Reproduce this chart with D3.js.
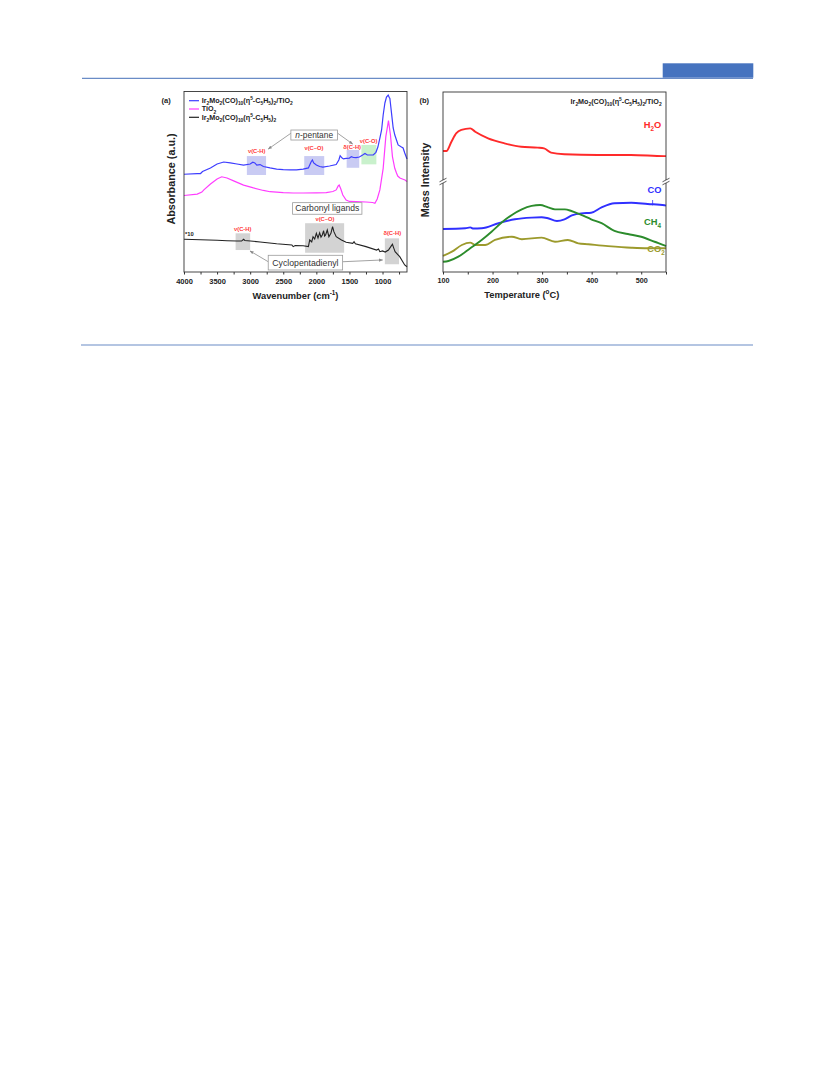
<!DOCTYPE html>
<html><head><meta charset="utf-8">
<script src="https://cdn.jsdelivr.net/npm/d3@7"></script>
<style>html,body{margin:0;padding:0;background:#fff;} svg{display:block;font-family:"Liberation Sans",Arial,sans-serif;}</style>
</head><body><svg id="c" width="833" height="1091"></svg>
<script>
// ---------- Panel (a) data : IR spectra (wavenumber cm-1, absorbance a.u.) ----------
const hybridWn = [4000,3800,3750,3720,3600,3500,3400,3300,3200,3100,3000,2960,2930,2900,2850,2800,2700,2600,2500,2400,2300,2200,2120,2080,2060,2040,2000,1950,1900,1800,1700,1660,1640,1610,1590,1550,1500,1470,1440,1400,1350,1300,1265,1230,1180,1140,1100,1070,1040,1014,990,964,940,914,895,889,864,839,814,789,764,714,689,664,630];
const hybridAbs = [54.3,54.7,54.7,55.8,57.8,60,61.1,60.6,60,59.4,60,61,60.6,59.4,59.7,58.6,57.8,57.2,56.9,56.7,56.7,57.2,57.8,61.1,62.2,60.6,59.4,58.6,58.3,58.9,59.7,62.2,64.6,63.3,62.8,63.1,63.3,64.1,63.6,63.5,63.9,65,65.9,65,65,65,66.5,69.4,74.4,78.9,87.2,93.9,97.2,98.3,96.7,96.5,88.3,80,76.1,73.3,70.6,69.4,68.9,66.1,62.8];
const tio2Wn = [4000,3800,3730,3700,3600,3500,3430,3350,3250,3100,2950,2800,2700,2500,2350,2200,2000,1850,1750,1700,1670,1655,1630,1600,1550,1500,1400,1250,1150,1115,1080,1040,990,950,910,880,850,815,789,770,737,700,660,630];
const tio2Abs = [42.5,43.3,44.4,45.6,48.9,51.7,52.9,52.2,50.6,48.3,46.7,45.3,44.6,44.1,43.9,43.9,44,44.1,44.7,45.6,47.8,48.3,46.1,42.8,40,39.2,39.1,38.9,38.6,38.2,40.6,45.6,57.6,75.2,84.1,76.1,64.1,57.6,55,53.3,52.2,51.7,51.1,50.2];
const complexWn = [4000,3750,3500,3350,3200,3130,3100,3080,2850,2600,2370,2350,2320,2200,2120,2100,2070,2050,2025,2000,1975,1950,1930,1910,1890,1875,1860,1835,1810,1780,1755,1735,1700,1620,1550,1450,1430,1410,1250,1090,1060,1040,1000,960,910,870,850,830,810,740,665,630];
const complexAbs = [18.2,17.9,17.6,17.4,17.2,17.2,18.2,17.5,16.7,15.7,15,14.1,14.7,14.6,14.1,17.8,16.7,19.6,18.3,21.5,18.9,21.8,19.4,20.6,22.9,20,20.6,23.3,19.6,21.5,25.2,22.4,19.6,17.8,16.5,15.9,16.8,15.7,14.1,12.2,12.8,11.3,11.7,11.1,12.2,14.4,15.4,13.3,11.3,8.5,3.9,2.9];
const legendA = ["Ir_{2}Mo_{2}(CO)_{10}(η^{5}-C_{5}H_{5})_{2}/TiO_{2}", "TiO_{2}", "Ir_{2}Mo_{2}(CO)_{10}(η^{5}-C_{5}H_{5})_{2}"];
const ticksA = [4000,3500,3000,2500,2000,1500,1000];

// shaded band annotations [wn1, wn2, abs1, abs2]
const bandsBlue = [[3050,2760,53.9,64.4],[2183,1881,53.9,64.4],[1542,1352,57.9,67.8]];
const bandsGreen = [[1319,1093,59.8,70.6]];
const bandsGray = [[3220,3000,12.2,21.5],[2170,1580,10.7,27.1],[965,750,4.3,18.7]];
const modeLabels = [["ν(C-H)",2902,66.1],["ν(C–O)",2036,67.6],["δ(C-H)",1458,68.2],["ν(C-O)",1210,71.7],["ν(C-H)",3113,22.6],["ν(C–O)",1870,28.2],["δ(C-H)",853,20.4]];

// ---------- Panel (b) data : TPD mass signals ----------
const h2oT = [100,107,117,127,137,155,165,191,224,258,291,304,318,345,412,479,546,550];
const h2oI = [67.2,67.2,72.4,77.1,78.9,79.8,77.9,74.3,71.5,69.6,69.1,68.7,66.3,65.4,65,65,64.4,64.4];
const coT = [100,145,155,160,178,212,245,279,299,310,330,345,360,379,399,420,446,480,513,547,550];
const coI = [23.9,24.3,24.8,24.2,24.3,27.1,29.3,30.2,30.4,30,28.3,29.2,31.4,32.6,32.9,35.9,38.2,38.5,37.8,37.1,36.9];
const ch4T = [100,111,131,155,178,198,219,239,259,279,296,312,326,346,359,379,399,420,446,473,500,527,548,550];
const ch4I = [5.7,6.1,8.5,13.2,17.8,22.4,27.6,31.7,34.8,36.7,37.2,35.9,34.8,34.8,33.9,31.7,29.3,27.1,22.8,21.1,19.6,16.8,14.6,14.4];
const co2T = [100,118,138,155,165,185,205,239,259,299,326,352,373,393,433,480,513,548,550];
const co2I = [8.9,11.3,15,16.3,15,15,17.8,19.6,18.2,19.1,16.8,17.8,15.9,15.4,14.4,13.5,13.2,13.2,13.2];
const ticksB = [100,200,300,400,500];
const seriesB = ["H_{2}O","CO","CH_{4}","CO_{2}"];

// ---------- helpers ----------
const svg = d3.select("#c");
function rich(sel, str, size){
  const parts = str.split(/(_\{[^}]*\}|\^\{[^}]*\})/).filter(s=>s.length);
  let shift = 0;
  parts.forEach(p=>{
    let t=p, target=0, fs=size;
    if(p.startsWith("_{")){t=p.slice(2,-1);target=size*0.3;fs=size*0.68;}
    else if(p.startsWith("^{")){t=p.slice(2,-1);target=-size*0.42;fs=size*0.68;}
    sel.append("tspan").attr("dy",(target-shift).toFixed(2)).style("font-size",fs+"px").text(t);
    shift=target;
  });
  return sel;
}

// page header / footer rules
svg.append("line").attr("x1",82).attr("x2",753).attr("y1",78.3).attr("y2",78.3).attr("stroke","#6a8cc6").attr("stroke-width",1.2);
svg.append("rect").attr("x",662.7).attr("y",63.3).attr("width",90.6).attr("height",14.4).attr("fill","#4673bf");
svg.append("line").attr("x1",81).attr("x2",753).attr("y1",345).attr("y2",345).attr("stroke","#6a8cc6").attr("stroke-width",1.2);

// ================= Panel (a) =================
const xa = d3.scaleLinear().domain([4000,630]).range([184,407]);
const ya = d3.scaleLinear().domain([0,100]).range([272,92]);
const ga = svg.append("g");

function bands(arr, fill){
  ga.selectAll(null).data(arr).enter().append("rect")
    .attr("x",d=>xa(d[0])).attr("width",d=>xa(d[1])-xa(d[0]))
    .attr("y",d=>ya(d[3])).attr("height",d=>ya(d[2])-ya(d[3]))
    .attr("fill",fill);
}
bands(bandsBlue,"#c9cbf3");
bands(bandsGreen,"#c9f1cc");
bands(bandsGray,"#d3d3d3");

const lineA = (wn,ab)=>d3.line().x((d,i)=>xa(wn[i])).y((d,i)=>ya(ab[i]))(wn);
ga.append("path").attr("d",lineA(complexWn,complexAbs)).attr("fill","none").attr("stroke","#222").attr("stroke-width",1.1);
ga.append("path").attr("d",lineA(tio2Wn,tio2Abs)).attr("fill","none").attr("stroke","#ff3cff").attr("stroke-width",1.2);
ga.append("path").attr("d",lineA(hybridWn,hybridAbs)).attr("fill","none").attr("stroke","#3d3dff").attr("stroke-width",1.2);

// frame
ga.append("rect").attr("x",184).attr("y",91.5).attr("width",223).attr("height",180.5).attr("fill","none").attr("stroke","#333").attr("stroke-width",0.9);
// x axis
const axA = d3.axisBottom(xa).tickValues(d3.range(4000,620,-250)).tickSize(2.5).tickFormat(d=>ticksA.includes(d)?d:"");
const gax = ga.append("g").attr("transform","translate(0,272)").call(axA);
gax.select(".domain").remove();
gax.selectAll("line").attr("stroke","#333");
gax.selectAll("text").attr("dy",0).attr("y",12).style("font-size","7.5px").style("font-weight","bold").attr("fill","#222");

rich(ga.append("text").attr("x",xa(2315)).attr("y",299.3).attr("text-anchor","middle").style("font-weight","bold").attr("fill","#222"),"Wavenumber (cm^{-1})",9.3);
ga.append("text").attr("transform","translate(175,179) rotate(-90)").attr("text-anchor","middle").style("font-size","10.8px").style("font-weight","bold").attr("fill","#222").text("Absorbance (a.u.)");
ga.append("text").attr("x",161.5).attr("y",102.5).style("font-size","7.5px").style("font-weight","bold").attr("fill","#222").text("(a)");

// legend
const legCols = ["#3d3dff","#ff3cff","#222"];
legendA.forEach((s,i)=>{
  const y = 100.7 + i*8.3;
  ga.append("line").attr("x1",189).attr("x2",199).attr("y1",y).attr("y2",y).attr("stroke",legCols[i]).attr("stroke-width",1.2);
  rich(ga.append("text").attr("x",201.7).attr("y",y+2.4).style("font-weight","bold").attr("fill","#222"),s,7.2);
});

// mode labels
ga.selectAll(null).data(modeLabels).enter().append("text")
  .attr("x",d=>xa(d[1])).attr("y",d=>ya(d[2])).attr("text-anchor","middle")
  .style("font-size","5.8px").style("font-weight","bold").attr("fill","#ff3a3a").text(d=>d[0]);
ga.append("text").attr("x",xa(3985)).attr("y",ya(20)).style("font-size","5.8px").style("font-weight","bold").attr("fill","#222").text("*10");

// arrows
const defs = svg.append("defs");
defs.append("marker").attr("id","ah").attr("viewBox","0 0 10 10").attr("refX",9).attr("refY",5).attr("markerWidth",5).attr("markerHeight",5).attr("orient","auto")
  .append("path").attr("d","M0,1 L10,5 L0,9 z").attr("fill","#8a8a8a");
const arrows = [[2384,77.1,2727,68.3],[1678,77.1,1451,71.1],[2727,5.7,3003,11.7],[1603,5.7,998,6.7]];
ga.selectAll(null).data(arrows).enter().append("line")
  .attr("x1",d=>xa(d[0])).attr("y1",d=>ya(d[1])).attr("x2",d=>xa(d[2])).attr("y2",d=>ya(d[3]))
  .attr("stroke","#8a8a8a").attr("stroke-width",0.8).attr("marker-end","url(#ah)");

// boxed notes
function note(wn,v,parts,size,w,h){
  const cx=xa(wn), cy=ya(v);
  ga.append("rect").attr("x",cx-w/2).attr("y",cy-h/2).attr("width",w).attr("height",h).attr("fill","#fff").attr("stroke","#9a9a9a").attr("stroke-width",0.8);
  const t=ga.append("text").attr("x",cx).attr("y",cy+size*0.35).attr("text-anchor","middle").style("font-size",size+"px").attr("fill","#333");
  parts.forEach(p=>t.append("tspan").style("font-style",p[1]?"italic":"normal").text(p[0]));
}
note(2032,76.1,[["n",true],["-pentane",false]],8.4,46.7,10);
note(1835,35.3,[["Carbonyl ligands",false]],8.6,69.3,11.6);
note(2165,5.2,[["Cyclopentadienyl",false]],8.7,74.4,14.7);

// ================= Panel (b) =================
const xb = d3.scaleLinear().domain([100,550]).range([443,666]);
const yb = d3.scaleLinear().domain([0,100]).range([272,92]);
const gb = svg.append("g");
const lineB = (T,I)=>d3.line().curve(d3.curveMonotoneX).x((d,i)=>xb(T[i])).y((d,i)=>yb(I[i]))(T);
const colB = ["#ff2a2a","#3030ff","#2c8c2c","#9c9a2c"];
[[h2oT,h2oI],[co2T,co2I],[coT,coI],[ch4T,ch4I]].forEach((s,k)=>{
  const c = [colB[0],colB[3],colB[1],colB[2]][k];
  gb.append("path").attr("d",lineB(s[0],s[1])).attr("fill","none").attr("stroke",c).attr("stroke-width",1.9);
});
gb.append("rect").attr("x",443).attr("y",92).attr("width",223).attr("height",180).attr("fill","none").attr("stroke","#333").attr("stroke-width",0.9);
// axis breaks
[443,666].forEach(x=>{
  const y=yb(50);
  gb.append("rect").attr("x",x-2).attr("y",y-2).attr("width",4).attr("height",3).attr("fill","#fff");
  [-2,1].forEach(o=>gb.append("line").attr("x1",x-3.5).attr("x2",x+3.5).attr("y1",y+o+1.8).attr("y2",y+o-1.8).attr("stroke","#333").attr("stroke-width",0.8));
});
const axB = d3.axisBottom(xb).tickValues(d3.range(100,551,50)).tickSize(2.5).tickFormat(d=>ticksB.includes(d)?d:"");
const gbx = gb.append("g").attr("transform","translate(0,272)").call(axB);
gbx.select(".domain").remove();
gbx.selectAll("line").attr("stroke","#333");
gbx.selectAll("text").attr("dy",0).attr("y",10.5).style("font-size","7.2px").style("font-weight","bold").attr("fill","#222");
rich(gb.append("text").attr("x",xb(259)).attr("y",298).attr("text-anchor","middle").style("font-weight","bold").attr("fill","#222"),"Temperature (^{o}C)",9.3);
gb.append("text").attr("transform","translate(429,180) rotate(-90)").attr("text-anchor","middle").style("font-size","10.8px").style("font-weight","bold").attr("fill","#222").text("Mass Intensity");
gb.append("text").attr("x",419.5).attr("y",102.5).style("font-size","7.5px").style("font-weight","bold").attr("fill","#222").text("(b)");
rich(gb.append("text").attr("x",661.7).attr("y",104).attr("text-anchor","end").style("font-weight","bold").attr("fill","#222"),"Ir_{2}Mo_{2}(CO)_{10}(η^{5}-C_{5}H_{5})_{2}/TiO_{2}",7.2);
// series labels
const labPos = [[522.7,80,colB[0]],[526.7,43.9,colB[1]],[522.7,26.1,colB[2]],[530,11.1,colB[3]]];
seriesB.forEach((s,i)=>{
  rich(gb.append("text").attr("x",xb(labPos[i][0])).attr("y",yb(labPos[i][1])).attr("text-anchor","middle").style("font-weight","bold").attr("fill",labPos[i][2]),s,9.3);
});
gb.append("line").attr("x1",xb(523)).attr("x2",xb(523)).attr("y1",yb(40)).attr("y2",yb(37)).attr("stroke",colB[1]).attr("stroke-width",0.8);
</script></body></html>
